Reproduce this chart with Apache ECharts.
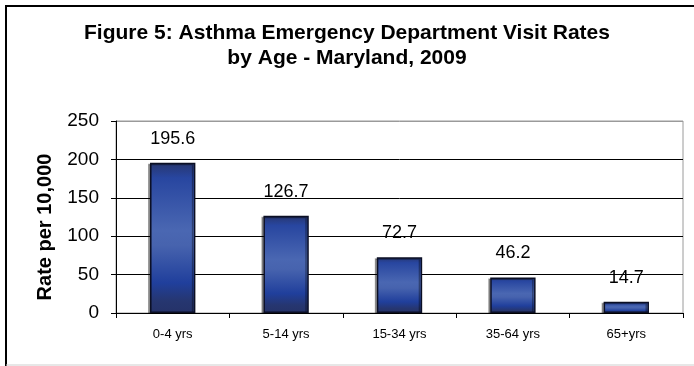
<!DOCTYPE html>
<html>
<head>
<meta charset="utf-8">
<script src="https://cdn.jsdelivr.net/npm/echarts@6/dist/echarts.min.js"></script>
<style>
  html, body { margin: 0; padding: 0; background: #fff; }
  #chart { width: 694px; height: 366px; }
</style>
</head>
<body>
<div id="chart"></div>
<script>
// Asthma ED visit rates per 10,000 residents by age group, Maryland 2009
const ageGroups = ['0-4 yrs', '5-14 yrs', '15-34 yrs', '35-64 yrs', '65+yrs'];
const visitRates = [195.6, 126.7, 72.7, 46.2, 14.7];
const yTicks = [0, 50, 100, 150, 200, 250];

const FONT = '"Liberation Sans", Arial, sans-serif';

const chart = echarts.init(document.getElementById('chart'), null, { renderer: 'canvas' });

// Banded navy-to-blue fill used on every bar
const barFill = new echarts.graphic.LinearGradient(0, 0, 0, 1, [
  { offset: 0.00, color: '#27366f' },
  { offset: 0.10, color: '#2846a0' },
  { offset: 0.45, color: '#4a67b2' },
  { offset: 0.55, color: '#4763ae' },
  { offset: 0.80, color: '#203f9c' },
  { offset: 0.92, color: '#263670' },
  { offset: 1.00, color: '#253268' }
]);

chart.setOption({
  animation: false,
  backgroundColor: '#fff',
  title: {
    text: 'Figure 5: Asthma Emergency Department Visit Rates\nby Age - Maryland, 2009',
    left: 'center',
    top: 16,
    textStyle: {
      fontFamily: FONT,
      fontSize: 21,
      fontWeight: 'bold',
      color: '#000',
      lineHeight: 25
    }
  },
  grid: {
    left: 116,
    right: 11,
    top: 121,
    bottom: 53,
    show: true,
    borderColor: '#9a9a9a',
    borderWidth: 1,
    backgroundColor: 'transparent'
  },
  xAxis: {
    type: 'category',
    data: ageGroups,
    axisLine: { lineStyle: { color: '#000', width: 1 } },
    axisTick: { show: true, inside: false, length: 5, lineStyle: { color: '#000' } },
    axisLabel: {
      fontFamily: FONT,
      fontSize: 13,
      color: '#000',
      margin: 15
    }
  },
  yAxis: {
    type: 'value',
    min: yTicks[0],
    max: yTicks[yTicks.length - 1],
    interval: 50,
    name: 'Rate per 10,000',
    nameLocation: 'middle',
    nameGap: 61,
    nameRotate: 90,
    nameTextStyle: {
      fontFamily: FONT,
      fontSize: 20,
      fontWeight: 'bold',
      color: '#000',
      padding: [0, 20, 0, 0]
    },
    axisLine: { show: true, lineStyle: { color: '#000', width: 1 } },
    axisTick: { show: true, length: 5, lineStyle: { color: '#000' } },
    axisLabel: {
      fontFamily: FONT,
      fontSize: 19,
      color: '#000',
      margin: 17
    },
    splitLine: {
      show: true,
      lineStyle: { color: ['#000', '#000', '#000', '#000', '#000', '#9a9a9a'], width: 1 }
    }
  },
  series: [{
    type: 'bar',
    data: visitRates,
    barWidth: '40%',
    itemStyle: {
      color: barFill,
      borderColor: '#0b0f24',
      borderWidth: 1.5,
      shadowColor: 'rgba(0,0,0,0.35)',
      shadowOffsetX: -2,
      shadowOffsetY: 1,
      shadowBlur: 0
    },
    label: {
      show: true,
      position: 'top',
      distance: 15,
      fontFamily: FONT,
      fontSize: 18,
      color: '#000',
      formatter: p => p.value.toFixed(1)
    }
  }],
  graphic: [
    { type: 'line', shape: { x1: 6, y1: 6, x2: 694, y2: 6 }, style: { stroke: '#000', lineWidth: 2 } },
    { type: 'line', shape: { x1: 6, y1: 5, x2: 6, y2: 366 }, style: { stroke: '#000', lineWidth: 2 } },
    { type: 'line', shape: { x1: 6, y1: 365, x2: 694, y2: 365 }, style: { stroke: '#cfcfcf', lineWidth: 1 } }
  ]
});
</script>
</body>
</html>
